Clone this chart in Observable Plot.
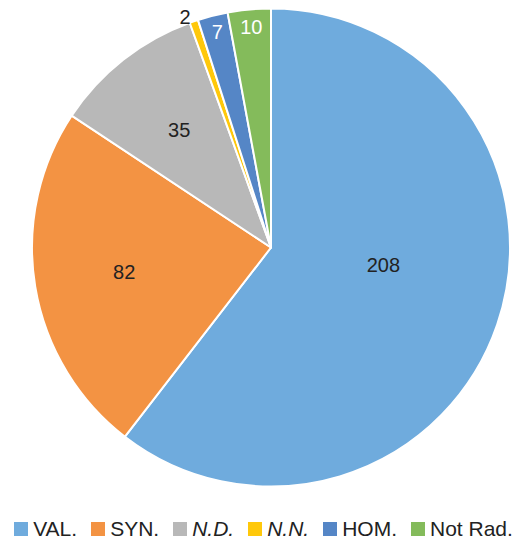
<!DOCTYPE html>
<html><head><meta charset="utf-8">
<script src="https://cdn.jsdelivr.net/npm/d3@7"></script>
<script src="https://cdn.jsdelivr.net/npm/@observablehq/plot@0.6"></script>
<style>
html,body{margin:0;padding:0;background:#fff;}
body{width:527px;height:539px;overflow:hidden;font-family:"Liberation Sans",Arial,Helvetica,sans-serif;}
#legend{display:flex;justify-content:center;align-items:center;height:29px;margin-top:4px;font-size:21px;color:#222;white-space:nowrap;}
#legend .it{display:flex;align-items:center;margin:0 7px;}
#legend .sw{width:14px;height:14px;margin-right:5px;}
</style></head>
<body>
<div id="chart"></div>
<div id="legend"></div>
<script>
const categories = ["VAL.", "SYN.", "N.D.", "N.N.", "HOM.", "Not Rad."];
const values = [208, 82, 35, 2, 7, 10];
const colors = ["#6FABDD", "#F39343", "#B8B8B8", "#FFC80A", "#5586C6", "#84BB5B"];
const italic = [false, false, true, true, false, false];
const labelColors = ["#222", "#222", "#222", "#222", "#fff", "#fff"];

const data = categories.map((c, i) => ({category: c, value: values[i], color: colors[i], labelColor: labelColors[i]}));
const pie = d3.pie().sort(null).value(d => d.value)(data);
const total = d3.sum(values);

// label placement (polar, in unit-radius data space)
const labels = pie.map((p, i) => {
  let a = (p.startAngle + p.endAngle) / 2;
  const frac = p.data.value / total;
  let r;
  if (frac > 0.5) { r = 0.474; a -= 0.17; }
  else if (frac > 0.08) r = 0.625;
  else if (frac > 0.015) r = 0.928;
  else { r = 1.03; a -= 0.03; }
  return {text: String(p.data.value), x: r * Math.sin(a), y: r * Math.cos(a), fill: p.data.labelColor};
});

const W = 527, H = 510;
const chart = Plot.plot({
  width: W, height: H,
  marginTop: 0, marginBottom: 0, marginLeft: 0, marginRight: 0,
  x: {domain: [-1, 1], range: [32, 510], axis: null},
  y: {domain: [-1, 1], range: [486.5, 8.5], axis: null},
  style: {background: "#fff", fontFamily: "Liberation Sans, Arial, sans-serif", overflow: "visible"},
  marks: [
    (index, scales) => {
      const cx = scales.x(0), cy = scales.y(0);
      const R = scales.x(1) - scales.x(0);
      const arc = d3.arc().innerRadius(0).outerRadius(R);
      const g = d3.create("svg:g").attr("transform", `translate(${cx},${cy})`);
      g.selectAll("path").data(pie).join("path")
        .attr("d", arc)
        .attr("fill", d => d.data.color)
        .attr("stroke", "#fff")
        .attr("stroke-width", 2)
        .attr("stroke-linejoin", "round");
      return g.node();
    },
    Plot.text(labels, {x: "x", y: "y", text: "text", fill: "fill", fontSize: 20, textAnchor: "middle", lineAnchor: "middle"})
  ]
});
document.getElementById("chart").appendChild(chart);

const lg = d3.select("#legend");
categories.forEach((c, i) => {
  const it = lg.append("div").attr("class", "it");
  it.append("div").attr("class", "sw").style("background", colors[i]);
  it.append("span").text(c).style("font-style", italic[i] ? "italic" : "normal");
});
</script>
</body></html>
